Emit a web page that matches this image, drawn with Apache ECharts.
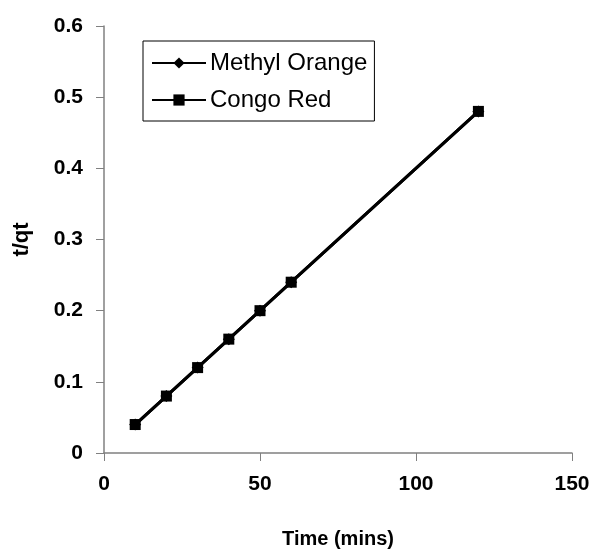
<!DOCTYPE html>
<html>
<head>
<meta charset="utf-8">
<script src="https://cdn.jsdelivr.net/npm/echarts@6/dist/echarts.min.js"></script>
<style>
  html, body { margin: 0; padding: 0; background: #fff; }
  #chart { width: 597px; height: 554px; }
</style>
</head>
<body>
<div id="chart"></div>
<script>
// time in minutes
const times = [10, 20, 30, 40, 50, 60, 120];
const methylOrange = [0.04, 0.08, 0.12, 0.16, 0.2, 0.24, 0.48];
const congoRed = [0.04, 0.08, 0.12, 0.16, 0.2, 0.24, 0.48];

const chart = echarts.init(document.getElementById("chart"));

const font = "Arial, 'Liberation Sans', sans-serif";

chart.setOption({
  animation: false,
  textStyle: { fontFamily: font },
  grid: { left: 104, right: 25, top: 26, bottom: 100 },
  legend: {
    left: 143,
    top: 41,
    orient: "vertical",
    itemWidth: 54,
    itemHeight: 14,
    itemGap: 13,
    padding: [10, 7, 9, 8],
    borderColor: "#000",
    borderWidth: 1,
    textStyle: { fontSize: 24, color: "#000", fontFamily: font, padding: [0, 0, 0, -1] },
    data: ["Methyl Orange", "Congo Red"]
  },
  xAxis: {
    type: "value",
    min: 0,
    max: 150,
    interval: 50,
    name: "Time (mins)",
    nameLocation: "middle",
    nameGap: 76,
    nameTextStyle: { fontSize: 20, fontWeight: "bold", color: "#000" },
    axisLine: { lineStyle: { color: "#808080", width: 1.5 } },
    axisTick: { inside: false, length: 8, lineStyle: { color: "#808080" } },
    axisLabel: { fontSize: 21, fontWeight: "bold", color: "#000", margin: 21 },
    splitLine: { show: false }
  },
  yAxis: {
    type: "value",
    min: 0,
    max: 0.6,
    interval: 0.1,
    name: "t/qt",
    nameLocation: "middle",
    nameGap: 71,
    nameTextStyle: { fontSize: 22, fontWeight: "bold", color: "#000" },
    axisLine: { show: true, lineStyle: { color: "#808080", width: 1.5 } },
    axisTick: { show: true, length: 8, lineStyle: { color: "#808080" } },
    axisLabel: { fontSize: 21, fontWeight: "bold", color: "#000", margin: 21 },
    splitLine: { show: false }
  },
  series: [
    {
      name: "Methyl Orange",
      type: "line",
      data: times.map((t, i) => [t, methylOrange[i]]),
      symbol: "diamond",
      symbolSize: 12,
      itemStyle: { color: "#000" },
      lineStyle: { color: "#000", width: 3 }
    },
    {
      name: "Congo Red",
      type: "line",
      data: times.map((t, i) => [t, congoRed[i]]),
      symbol: "rect",
      symbolSize: 11,
      itemStyle: { color: "#000" },
      lineStyle: { color: "#000", width: 3 }
    }
  ]
});
</script>
</body>
</html>
